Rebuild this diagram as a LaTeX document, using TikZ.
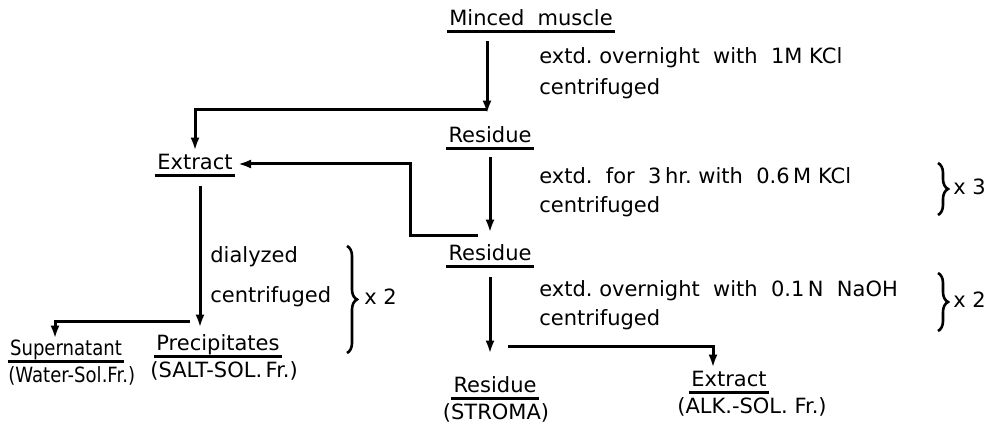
\documentclass[tikz,border=0pt]{standalone}
\usepackage{fontspec}
\setmainfont{DejaVu Sans}
\usetikzlibrary{arrows.meta,decorations.pathreplacing}

\tikzset{
  stage/.style={font=\fontsize{10.5}{12}\selectfont, inner sep=1pt,
    text height=7.5pt, text depth=1.5pt,
    append after command={(\tikzlastnode.south west) edge[line width=1.3pt] (\tikzlastnode.south east)}},
  textline/.style={font=\fontsize{10.5}{12}\selectfont, inner sep=1pt,
    text height=7.5pt, text depth=2pt},
  flow/.style={-{Latex[length=6.5pt,width=4.5pt]}, line width=1.5pt},
  bracket/.style={decorate, decoration={brace, amplitude=5pt, aspect=0.5}, line width=1.3pt},
}
\newcommand{\narrow}[1]{\scalebox{0.86}[1]{#1}}

\begin{document}
\begin{tikzpicture}[x=0.5pt,y=-0.5pt]
  \useasboundingbox (0,0) rectangle (991,431);

  % main column
  \node[stage] (minced) at (531,20) {Minced\ \ muscle};
  \node[stage] (r1) at (490,137) {Residue};
  \node[stage] (r2) at (490,255) {Residue};
  \node[stage] (r3) at (495,387) {Residue};
  \node[textline] (r3note) at (496,414) {(STROMA)};
  \node[stage] (ex2) at (729,381) {Extract};
  \node[textline] (ex2note) at (752,408) {(ALK.-SOL. Fr.)};

  % left column
  \node[stage] (ex1) at (195,164) {Extract};
  \node[stage] (pr) at (218,345) {Precipitates};
  \node[textline,anchor=west] (prnote) at (148,372) {(SALT-SOL.\,Fr.)};
  \node[stage] (sup) at (66,350) {\narrow{Supernatant}};
  \node[textline,anchor=west] (supnote) at (6,377) {\narrow{(Water-Sol.Fr.)}};

  % treatments
  \node[textline,anchor=west] (t1a) at (537,58) {extd.\ overnight\ \ with\ \ 1M KCl};
  \node[textline,anchor=west] (t1b) at (537,89) {centrifuged};
  \node[textline,anchor=west] (t2a) at (537,178) {extd.\ \ for\ \ 3\,hr.\ with\ \ 0.6\,M KCl};
  \node[textline,anchor=west] (t2b) at (537,207) {centrifuged};
  \node[textline,anchor=west] (t3a) at (537,291) {extd.\ overnight\ \ with\ \ 0.1\,N\ \ NaOH};
  \node[textline,anchor=west] (t3b) at (537,320) {centrifuged};
  \node[textline,anchor=west] (t4a) at (208,257) {dialyzed};
  \node[textline,anchor=west] (t4b) at (208,297) {centrifuged};

  % repeats
  \draw[bracket] (938,163) -- (938,215) node[midway,right=6pt,textline] (rep1) {x 3};
  \draw[bracket] (938,273) -- (938,331) node[midway,right=6pt,textline] (rep2) {x 2};
  \draw[bracket] (347,246) -- (347,353) node[midway,right=7pt,textline] (rep3) {x 2};

  % flow
  \coordinate (b1) at (487,110);
  \coordinate (b2) at (478,236);
  \coordinate (b3) at (508,347);
  \coordinate (b4) at (190,322);
  \draw[flow,shorten <=5pt,shorten >=6pt] (minced.south -| b1) -- (r1.north -| b1);
  \draw[flow,shorten >=1pt] (b1) -| (ex1.north);
  \draw[flow,shorten <=4.5pt,shorten >=5.5pt] (r1.south) -- (r2.north);
  \draw[flow,shorten >=1.5pt] (b2) -- ++(-68,0) |- (ex1.east);
  \draw[flow,shorten <=5.5pt,shorten >=11pt] (r2.south) -- (r2.south |- r3.north);
  \draw[flow,shorten >=1pt] (b3) -| ([xshift=-8pt]ex2.north);
  \draw[flow,shorten <=5.5pt,shorten >=3pt] ([xshift=2.5pt]ex1.south) -- ([xshift=2.5pt]ex1.south |- pr.north);
  \draw[flow] (b4) -| ([xshift=-5.5pt]sup.north);
\end{tikzpicture}
\end{document}
